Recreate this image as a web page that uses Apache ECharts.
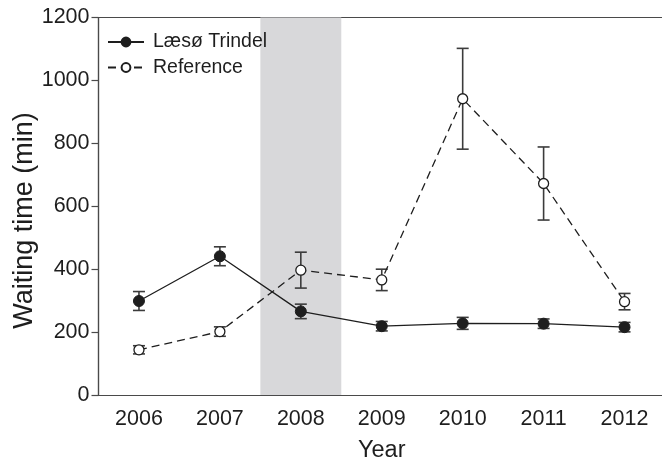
<!DOCTYPE html>
<html>
<head>
<meta charset="utf-8">
<script src="https://cdn.jsdelivr.net/npm/echarts@6/dist/echarts.min.js"></script>
<style>
  html, body { margin: 0; padding: 0; background: #fff; }
  #chart { width: 662px; height: 458px; }
</style>
</head>
<body>
<div id="chart"></div>
<script>
// Yearly waiting times, mean with error range
const years = ['2006', '2007', '2008', '2009', '2010', '2011', '2012'];
const laesoMean = [300, 442, 267, 220, 229, 228, 217];
const laesoErr  = [30, 30, 23, 15, 19, 15, 15];
const refMean   = [145, 203, 398, 367, 942, 673, 298];
const refErr    = [13, 15, 57, 34, 160, 116, 26];
const shadedYear = '2008';
const yTicks = { min: 0, max: 1200, step: 200 };

const FONT = 'Liberation Sans, Arial, Helvetica, sans-serif';
const INK = '#1e1e1e';
const AXIS = '#4a4a4a';

function errorData(mean, err) {
  return mean.map((m, i) => [i, m - err[i], m + err[i]]);
}

function renderErrorBar(params, api) {
  const x = api.value(0);
  const lo = api.coord([x, api.value(1)]);
  const hi = api.coord([x, api.value(2)]);
  const cap = 6;
  const style = { stroke: '#3c3c3c', lineWidth: 1.6, fill: null };
  return {
    type: 'group',
    children: [
      { type: 'line', shape: { x1: lo[0], y1: lo[1], x2: hi[0], y2: hi[1] }, style },
      { type: 'line', shape: { x1: lo[0] - cap, y1: lo[1], x2: lo[0] + cap, y2: lo[1] }, style },
      { type: 'line', shape: { x1: hi[0] - cap, y1: hi[1], x2: hi[0] + cap, y2: hi[1] }, style }
    ]
  };
}

function renderBand(params, api) {
  const idx = api.value(0);
  const top = api.coord([idx, yTicks.max]);
  const bottom = api.coord([idx, yTicks.min]);
  const w = api.size([1, 0])[0];
  return {
    type: 'rect',
    shape: { x: top[0] - w / 2, y: top[1], width: w, height: bottom[1] - top[1] },
    style: { fill: '#d8d8da' }
  };
}

const chart = echarts.init(document.getElementById('chart'), null, { renderer: 'canvas' });

chart.setOption({
  animation: false,
  backgroundColor: '#fff',
  textStyle: { fontFamily: FONT },
  grid: {
    left: 98.5, width: 566.5, top: 17.5, bottom: 62.5,
    containLabel: false,
    outerBoundsMode: 'none',
    show: true, borderColor: AXIS, borderWidth: 1.2, backgroundColor: 'transparent'
  },
  legend: {
    orient: 'vertical',
    left: 102, top: 27,
    itemWidth: 36, itemHeight: 11, itemGap: 5.5,
    data: ['Læsø Trindel', 'Reference'],
    textStyle: { fontFamily: FONT, fontSize: 19.5, lineHeight: 20, color: INK, padding: [0, 0, 0, 4] }
  },
  xAxis: {
    type: 'category',
    data: years,
    boundaryGap: true,
    name: 'Year',
    nameLocation: 'middle',
    nameGap: 43,
    nameMoveOverlap: false,
    nameTextStyle: { fontFamily: FONT, fontSize: 23.5, color: INK },
    axisLine: { lineStyle: { color: AXIS, width: 1.2 } },
    axisTick: { alignWithLabel: true, length: 7, lineStyle: { color: AXIS, width: 1.2 } },
    axisLabel: { fontFamily: FONT, fontSize: 21.5, color: INK, margin: 13 },
    splitLine: { show: false }
  },
  yAxis: {
    type: 'value',
    min: yTicks.min, max: yTicks.max, interval: yTicks.step,
    name: 'Waiting time (min)',
    nameLocation: 'middle',
    nameGap: 60,
    nameMoveOverlap: false,
    nameRotate: 90,
    nameTextStyle: { fontFamily: FONT, fontSize: 27, color: INK, padding: [0, 28, 0, 0] },
    axisLine: { show: true, lineStyle: { color: AXIS, width: 1.2 } },
    axisTick: { show: true, length: 7, lineStyle: { color: AXIS, width: 1.2 } },
    axisLabel: { fontFamily: FONT, fontSize: 21.5, color: INK, margin: 9, formatter: v => String(v) },
    splitLine: { show: false }
  },
  series: [
    {
      name: 'band',
      type: 'custom',
      renderItem: renderBand,
      data: [[years.indexOf(shadedYear)]],
      z: 0,
      silent: true
    },
    {
      name: 'laesoErr',
      type: 'custom',
      renderItem: renderErrorBar,
      data: errorData(laesoMean, laesoErr),
      z: 2
    },
    {
      name: 'refErr',
      type: 'custom',
      renderItem: renderErrorBar,
      data: errorData(refMean, refErr),
      z: 2
    },
    {
      name: 'Læsø Trindel',
      type: 'line',
      data: laesoMean,
      symbol: 'circle',
      symbolSize: 11,
      lineStyle: { color: INK, width: 1.3, type: 'solid' },
      itemStyle: { color: INK, borderColor: INK, borderWidth: 1 },
      z: 3
    },
    {
      name: 'Reference',
      type: 'line',
      data: refMean,
      symbol: 'circle',
      symbolSize: 10,
      lineStyle: { color: INK, width: 1.3, type: [8, 5] },
      itemStyle: { color: '#fff', borderColor: INK, borderWidth: 1.3 },
      z: 4
    }
  ]
});
</script>
</body>
</html>
